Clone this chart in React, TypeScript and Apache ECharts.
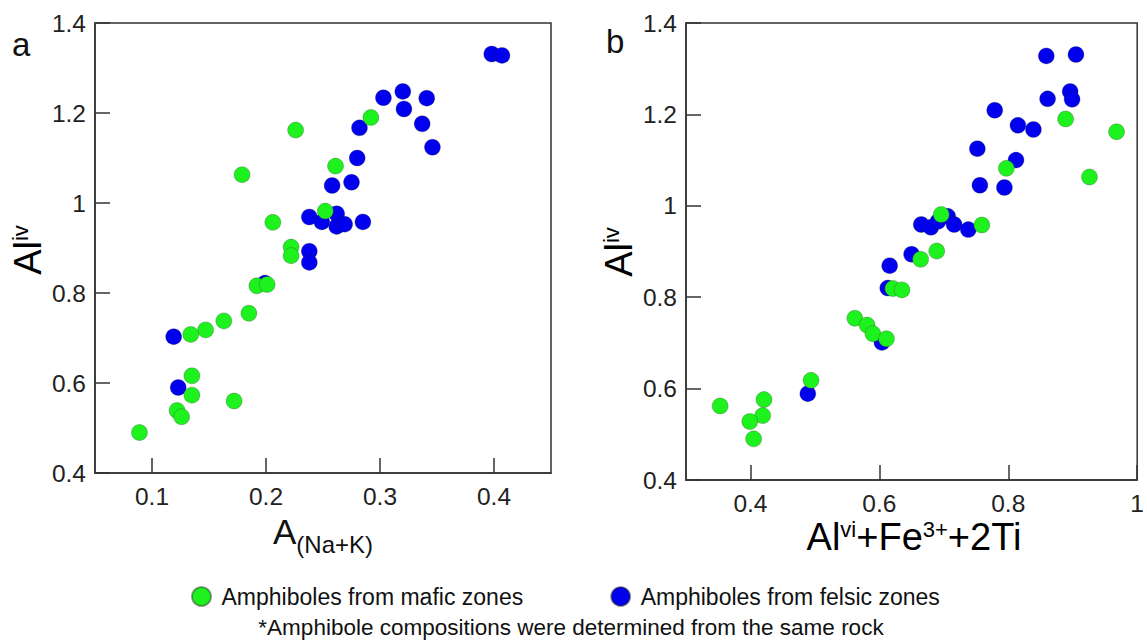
import React, { useEffect, useRef } from "react";
import * as echarts from "echarts";

const FONT = "Liberation Sans, Arial, Helvetica, sans-serif";

const MAFIC = "Amphiboles from mafic zones";
const FELSIC = "Amphiboles from felsic zones";

// Panel a: A(Na+K) vs Al(iv)
const felsicA: [number, number][] = [
  [0.398, 1.331], [0.407, 1.328], [0.303, 1.234], [0.32, 1.248], [0.321, 1.209],
  [0.341, 1.233], [0.337, 1.176], [0.346, 1.124], [0.282, 1.167], [0.28, 1.1],
  [0.258, 1.039], [0.275, 1.046], [0.238, 0.969], [0.249, 0.958], [0.262, 0.976],
  [0.262, 0.948], [0.269, 0.953], [0.285, 0.958], [0.238, 0.893], [0.238, 0.868],
  [0.119, 0.703], [0.123, 0.59], [0.199, 0.822],
];
const maficA: [number, number][] = [
  [0.292, 1.19], [0.226, 1.162], [0.179, 1.063], [0.261, 1.082], [0.252, 0.982],
  [0.206, 0.957], [0.222, 0.902], [0.222, 0.883], [0.192, 0.816], [0.201, 0.819],
  [0.185, 0.755], [0.163, 0.738], [0.147, 0.718], [0.134, 0.708], [0.135, 0.616],
  [0.135, 0.573], [0.172, 0.56], [0.122, 0.539], [0.126, 0.525], [0.089, 0.49],
];

// Panel b: Al(vi)+Fe3+ +2Ti vs Al(iv)
const felsicB: [number, number][] = [
  [0.859, 1.328], [0.905, 1.331], [0.861, 1.234], [0.896, 1.25], [0.899, 1.233],
  [0.779, 1.209], [0.815, 1.176], [0.839, 1.167], [0.752, 1.125], [0.812, 1.1],
  [0.756, 1.045], [0.794, 1.04], [0.665, 0.959], [0.68, 0.953], [0.691, 0.966],
  [0.706, 0.977], [0.716, 0.959], [0.738, 0.948], [0.65, 0.894], [0.616, 0.869],
  [0.613, 0.82], [0.604, 0.701], [0.489, 0.589],
];
const maficB: [number, number][] = [
  [0.889, 1.19], [0.968, 1.162], [0.926, 1.063], [0.797, 1.082], [0.696, 0.981],
  [0.759, 0.958], [0.689, 0.901], [0.664, 0.883], [0.621, 0.819], [0.635, 0.816],
  [0.562, 0.754], [0.581, 0.739], [0.59, 0.72], [0.611, 0.709], [0.494, 0.618],
  [0.421, 0.576], [0.419, 0.541], [0.399, 0.528], [0.353, 0.562], [0.405, 0.49],
];

const xTicksA = [0.1, 0.2, 0.3, 0.4];
const xTicksB = [0.4, 0.6, 0.8, 1.0];

const GREEN = "#1ef21e";
const BLUE = "#0000ee";
const AXIS = "#333";

export default function App() {
  const ref = useRef<HTMLDivElement>(null);
  useEffect(() => {
    if (!ref.current) return;
    const chart = echarts.init(ref.current, null, { renderer: "svg" });

    const xAxisBase = (min: number, max: number, ticks: number[], gridIndex: number) => ({
      type: "value",
      gridIndex,
      min,
      max,
      axisLine: { show: true, lineStyle: { color: AXIS, width: 1.5 } },
      axisTick: { show: true, inside: true, length: 15, lineStyle: { color: AXIS, width: 1.5 }, customValues: ticks },
      axisLabel: { show: true, customValues: ticks, fontSize: 24.5, fontFamily: FONT, color: "#222", margin: 11, showMaxLabel: true },
      splitLine: { show: false },
    });
    const yAxisBase = (gridIndex: number) => ({
      type: "value",
      gridIndex,
      min: 0.4,
      max: 1.4,
      interval: 0.2,
      axisLine: { show: true, lineStyle: { color: AXIS, width: 1.5 } },
      axisTick: { show: true, inside: true, length: 15, lineStyle: { color: AXIS, width: 1.5 } },
      axisLabel: { fontSize: 24.5, fontFamily: FONT, color: "#222", margin: 9 },
      splitLine: { show: false },
    });

    const itemStyle = (c: string) => ({ color: c, borderColor: "rgba(40,40,40,0.45)", borderWidth: 0.6, opacity: 1 });

    const mainRich = (size: number) => ({ fontSize: size, fontFamily: FONT, color: "#111", lineHeight: size });
    const supRich = (size: number) => ({ fontSize: size, fontFamily: FONT, color: "#111", lineHeight: size, verticalAlign: "top" });

    chart.setOption({
      animation: false,
      backgroundColor: "#fff",
      grid: [
        { left: 95, top: 23, width: 456, height: 450, show: true, borderColor: AXIS, borderWidth: 1.5, backgroundColor: "transparent" },
        { left: 686, top: 23, width: 457, height: 457, show: true, borderColor: AXIS, borderWidth: 1.5, backgroundColor: "transparent" },
      ],
      xAxis: [xAxisBase(0.05, 0.45, xTicksA, 0), xAxisBase(0.3, 1.0, xTicksB, 1)],
      yAxis: [yAxisBase(0), yAxisBase(1)],
      legend: {
        data: [MAFIC, FELSIC],
        left: 186,
        top: 580,
        itemWidth: 30,
        itemHeight: 19,
        itemGap: 87,
        icon: "circle",
        textStyle: { fontSize: 23, fontFamily: FONT, color: "#111" },
      },
      graphic: [
        { type: "text", left: 12, top: 28, style: { text: "a", fontSize: 33, fontFamily: FONT, fill: "#111" } },
        { type: "text", left: 606, top: 25, style: { text: "b", fontSize: 33, fontFamily: FONT, fill: "#111" } },
        {
          type: "text", x: 323, y: 514, style: {
            text: "{m|A}{s|(Na+K)}", align: "center", verticalAlign: "top",
            rich: { m: { fontSize: 35, fontFamily: FONT, fill: "#111", lineHeight: 35, verticalAlign: "top" }, s: { fontSize: 24, fontFamily: FONT, fill: "#111", lineHeight: 42, verticalAlign: "bottom" } },
          },
        },
        {
          type: "text", x: 914, y: 518, style: {
            text: "{m|Al}{s|vi}{m|+Fe}{s|3+}{m|+2Ti}", align: "center", verticalAlign: "top",
            rich: { m: mainRich(38), s: supRich(22) },
          },
        },
        {
          type: "text", x: 28, y: 250, rotation: Math.PI / 2, style: {
            text: "{m|Al}{s|iv}", align: "center", verticalAlign: "middle",
            rich: { m: mainRich(38), s: supRich(22) },
          },
        },
        {
          type: "text", x: 619, y: 252, rotation: Math.PI / 2, style: {
            text: "{m|Al}{s|iv}", align: "center", verticalAlign: "middle",
            rich: { m: mainRich(38), s: supRich(22) },
          },
        },
        {
          type: "text", x: 571, y: 627, style: {
            text: "*Amphibole compositions were determined from the same rock",
            fontSize: 22.5, fontFamily: FONT, fill: "#111", align: "center", verticalAlign: "middle",
          },
        },
      ],
      series: [
        { name: FELSIC, type: "scatter", xAxisIndex: 0, yAxisIndex: 0, data: felsicA, symbolSize: 16, itemStyle: itemStyle(BLUE), z: 2 },
        { name: MAFIC, type: "scatter", xAxisIndex: 0, yAxisIndex: 0, data: maficA, symbolSize: 16, itemStyle: itemStyle(GREEN), z: 3 },
        { name: FELSIC, type: "scatter", xAxisIndex: 1, yAxisIndex: 1, data: felsicB, symbolSize: 16, itemStyle: itemStyle(BLUE), z: 2 },
        { name: MAFIC, type: "scatter", xAxisIndex: 1, yAxisIndex: 1, data: maficB, symbolSize: 16, itemStyle: itemStyle(GREEN), z: 3 },
      ],
    });
    return () => chart.dispose();
  }, []);
  return <div ref={ref} style={{ position: "absolute", left: 0, top: 0, width: 1147, height: 643 }} />;
}
